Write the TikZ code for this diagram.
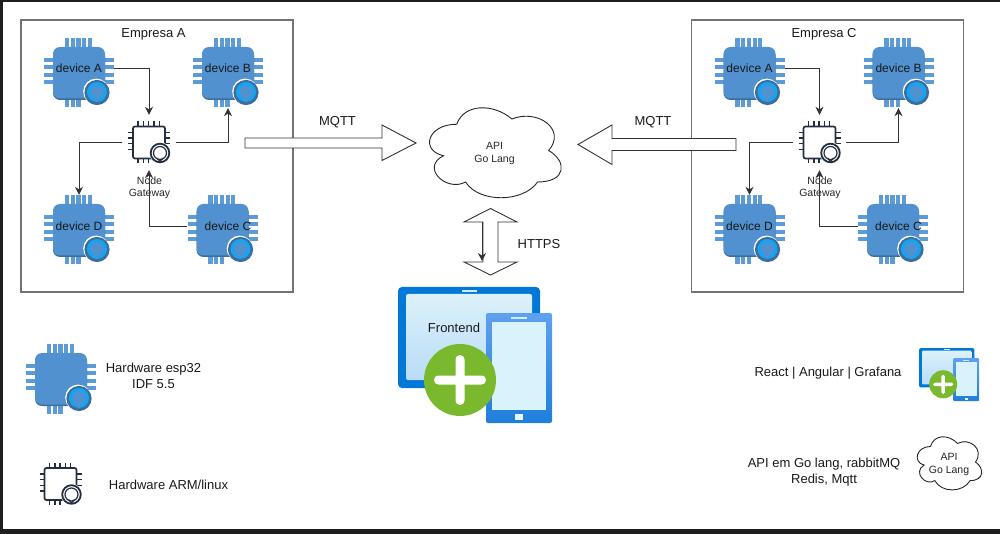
\documentclass[tikz,border=0pt]{standalone}
\usepackage{fontspec}
\setmainfont{Liberation Sans}
\usetikzlibrary{arrows.meta,positioning}
\definecolor{chipblue}{HTML}{5191CF}
\definecolor{chipdark}{HTML}{3E6C9B}
\definecolor{pinblue}{HTML}{5D9BD6}
\definecolor{ringblue}{HTML}{12A5F4}
\definecolor{gwdark}{HTML}{232F3E}
\definecolor{linegray}{HTML}{333333}
\newcommand{\fs}[1]{\fontsize{#1}{#1}\selectfont}
\tikzset{
  txt/.style={inner sep=0pt,align=center,text=black!90,font=\fs{13}},
  smalltxt/.style={txt,font=\fs{10.5},text=black!85},
  devlabel/.style={txt,font=\fs{12}},
  chipbox/.style={inner sep=0pt,minimum width=70,minimum height=70},
  gwbox/.style={inner sep=0pt,minimum width=53,minimum height=55},
  flow/.style={-{Stealth[length=8,width=8]},linegray,line width=.9},
  blockarrow/.style={draw=linegray,fill=white,line width=.9},
  devchip/.pic={
    \foreach \i in {0,...,4}{
      \pgfmathsetmacro{\px}{-12+\i*5.7}
      \fill[pinblue] (\px-2.1,-35) rectangle ++(4.2,10);
    }
    \foreach \i in {0,...,2}{
      \pgfmathsetmacro{\px}{-12+\i*5.7}
      \fill[pinblue] (\px-2.1,25) rectangle ++(4.2,9.5);
    }
    \foreach \i in {0,...,3}{
      \pgfmathsetmacro{\py}{-13+\i*7.3}
      \fill[pinblue] (-35,\py-2) rectangle ++(70,4);
    }
    \fill[chipdark,rounded corners=7] (-26,-24.5) rectangle (26,27);
    \fill[chipblue,rounded corners=7] (-26,-26) rectangle (26,25.5);
    \fill[white] (17.2,18.6) circle (13);
    \fill[chipdark] (18,19.5) circle (12.6);
    \fill[ringblue] (18,19) circle (10);
    \fill[chipblue] (18,19) circle (6.8);
    \fill[chipblue] (14.5,24) -- (18,29.5) -- (21,24) -- cycle;
  },
  gwchip/.pic={
    \foreach \i in {0,...,4}{
      \pgfmathsetmacro{\px}{-11+\i*5.3}
      \draw[gwdark,line width=1.4] (\px,-21) -- (\px,-16);
    }
    \foreach \i in {0,...,2}{
      \pgfmathsetmacro{\px}{-11+\i*5.3}
      \draw[gwdark,line width=1.4] (\px,16) -- (\px,21);
    }
    \foreach \i in {0,...,3}{
      \pgfmathsetmacro{\py}{-10+\i*5.6}
      \draw[gwdark,line width=1.4] (-21,\py) -- (-16,\py);
    }
    \foreach \i in {0,...,2}{
      \pgfmathsetmacro{\py}{-10+\i*5.6}
      \draw[gwdark,line width=1.4] (16,\py) -- (21,\py);
    }
    \draw[gwdark,line width=1.7,fill=white,rounded corners=2] (-16,-16) rectangle (16,16);
    \fill[white] (11,10.5) circle (10.8);
    \draw[gwdark,line width=1.8] (11,10.5) circle (9.3);
    \draw[gwdark,line width=1.2] (11,10.5) circle (6.5);
    \draw[gwdark,line width=1.2] (8,15.5) -- (11,19) -- (14,15.5);
  },
  cloudshape/.pic={
    \draw[black!85,line width=.9,fill=white] (.25,.25)
      .. controls (.05,.25) and (0,.5) .. (.16,.55)
      .. controls (0,.66) and (.18,.9) .. (.31,.8)
      .. controls (.4,1) and (.7,1) .. (.8,.8)
      .. controls (1,.8) and (1,.6) .. (.875,.5)
      .. controls (1,.3) and (.8,.1) .. (.625,.2)
      .. controls (.5,.05) and (.3,.05) .. (.25,.25) -- cycle;
  },
  pics/tablets/.style={code={
    \begin{scope}[scale=#1]
      \fill[fill={rgb,255:red,0;green,120;blue,215},rounded corners={4pt*#1}] (0,0) rectangle (142,101);
      \shade[top color={rgb,255:red,220;green,241;blue,249},bottom color={rgb,255:red,185;green,220;blue,248},rounded corners={2pt*#1}] (8,7) rectangle (134,93);
      \fill[white!80!cyan] (64,3) rectangle (79,5);
      \shade[top color={rgb,255:red,96;green,160;blue,240},bottom color={rgb,255:red,30;green,127;blue,219},rounded corners={2pt*#1}] (88,26) rectangle (154,136);
      \fill[white!85!cyan] (94,35) rectangle (148,123);
      \fill[white!80!cyan] (113,30) rectangle (129,32);
      \fill[white!90!cyan] (117,127) rectangle (125,133);
      \fill[fill={rgb,255:red,122;green,185;blue,46}] (62,93) circle (36);
      \fill[white,rounded corners={4.4pt*#1}] (36,88.5) rectangle (88,97.5);
      \fill[white,rounded corners={4.4pt*#1}] (57.5,68) rectangle (66.5,118);
    \end{scope}
  }}
}
\newcommand{\empresagroup}[1]{
  \draw[black!55,line width=1.2] (21,20) rectangle (293,292);
  \node[txt] (title) at (153.5,34.5) {Empresa #1};
  \foreach \nm/\cx/\cy/\lx/\ly in {A/79/73/79/68,B/228/73/228/68,D/79/230/79/226,C/222.5/230/228/226}{
    \node[chipbox] (chip\nm) at (\cx,\cy) {};
    \pic at (chip\nm) {devchip};
    \node[devlabel] (lab\nm) at (\lx,\ly) {device \nm};
  }
  \node[gwbox] (gw) at (149,142.5) {};
  \pic at (gw) {gwchip};
  \node[smalltxt] (gwlabel) at (149.5,187.5) {Node\\[1.5pt]Gateway};
  \draw[flow] (labA -| chipA.east) -| (gw.north);
  \draw[flow] (gw.east) -| (chipB.south);
  \draw[flow] (gw.west) -| (chipD.north);
  \draw[flow] (labC -| chipC.west) -| (gw.south);
}
\begin{document}
\begin{tikzpicture}[x=1pt,y=-1pt]
\useasboundingbox (0,0) rectangle (1000,534);
\fill[black!88] (0,0) rectangle (1000,2);
\fill[black!88] (0,0) rectangle (3,534);
\fill[black!88] (0,529) rectangle (1000,534);

\begin{scope}[name prefix=a-]
  \empresagroup{A}
\end{scope}

\begin{scope}[name prefix=c-,xshift=670.5]
  \empresagroup{C}
\end{scope}

% block arrows
\draw[blockarrow] (245,138) -- (382,138) -- (382,125) -- (416,143) -- (382,160.5) -- (382,148) -- (245,148) -- cycle;
\draw[blockarrow] (736,138.5) -- (612,138.5) -- (612,125) -- (578,144.5) -- (612,164.5) -- (612,150.5) -- (736,150.5) -- cycle;
\node[txt] (mqttleft) at (337.5,122.5) {MQTT};
\node[txt] (mqttright) at (653,122.5) {MQTT};

% api
\pic[xscale=147,yscale=105] at (420,98) {cloudshape};
\node[smalltxt] (api) at (494.5,153) {API\\[2.5pt]Go Lang};

% https
\draw[blockarrow] (490.5,208.5) -- (517,222) -- (498,222) -- (498,262) -- (517,262) -- (490.5,275) -- (464,262) -- (483,262) -- (483,222) -- (464,222) -- cycle;
\coordinate (httpstop) at (482,222);
\coordinate (httpsbot) at (482,261);
\draw[flow] (httpstop) -- (httpsbot);
\node[txt] (https) at (539,244.5) {HTTPS};

% frontend
\pic at (398,287) {tablets=1};
\node[txt] (frontend) at (454,328) {Frontend};

% legend
\node[chipbox] (legesp) at (61,379) {};
\pic at (legesp) {devchip};
\node[txt] (legesptxt) at (153.5,376) {Hardware esp32\\[3pt]IDF 5.5};
\node[gwbox] (leggw) at (60.5,484) {};
\pic at (leggw) {gwchip};
\node[txt] (leggwtxt) at (168.5,485) {Hardware ARM/linux};
\node[txt] (legfront) at (828,373.5) {React | Angular | Grafana};
\pic at (919,348) {tablets=.39};
\node[txt] (legapi) at (824,472.5) {API em Go lang, rabbitMQ\\[3pt]Redis, Mqtt};
\pic[xscale=72,yscale=62] at (912.5,431) {cloudshape};
\node[smalltxt] (legcloud) at (949,464) {API\\[2.5pt]Go Lang};

\end{tikzpicture}
\end{document}
